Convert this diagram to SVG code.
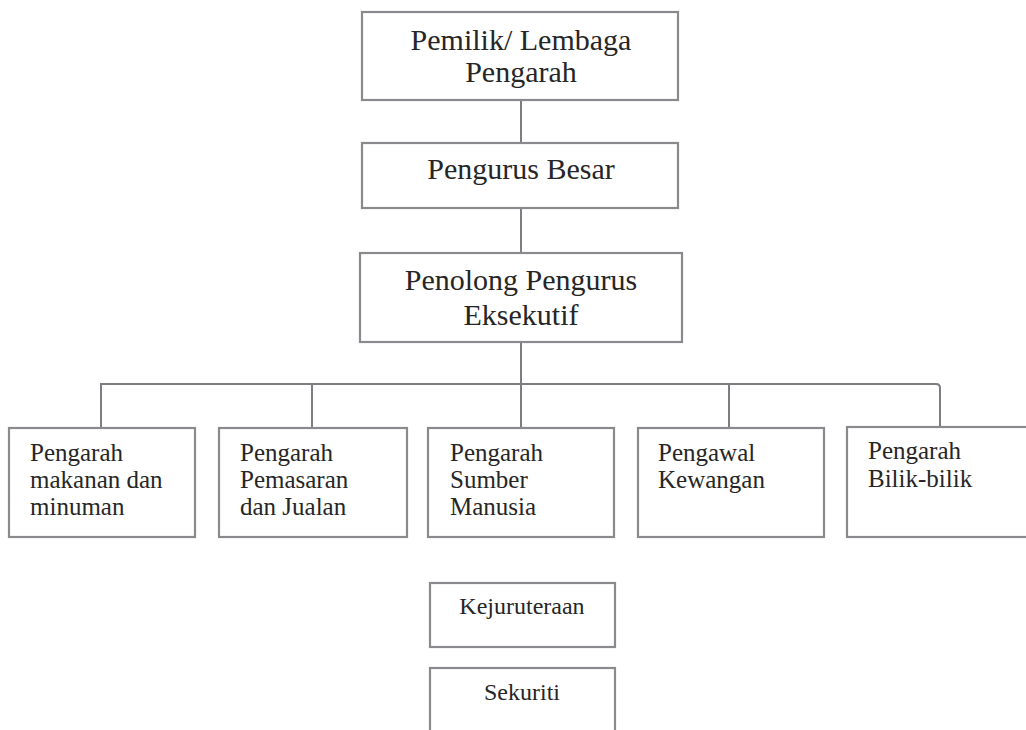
<svg xmlns="http://www.w3.org/2000/svg" width="1026" height="730" viewBox="0 0 1026 730">
<style>
.box{fill:#fff;stroke:#8a8a8e;stroke-width:2.2}
.ln{fill:none;stroke:#7d7d82;stroke-width:2}
.t{font-family:"Liberation Serif","Times New Roman",serif;fill:#262626}
.big{font-size:30px;text-anchor:middle}
.sm{font-size:25px}
.mid{font-size:24px;text-anchor:middle}
</style>
<rect width="1026" height="730" fill="#fff"/>
<g id="connectors">
<line class="ln" x1="521" y1="100" x2="521" y2="143"/>
<line class="ln" x1="521" y1="208" x2="521" y2="253"/>
<line class="ln" x1="521" y1="342" x2="521" y2="384"/>
<path class="ln" d="M101 428 V384 H936 Q940 384 940 388 V428"/>
<line class="ln" x1="312" y1="384" x2="312" y2="428"/>
<line class="ln" x1="521" y1="384" x2="521" y2="428"/>
<line class="ln" x1="729" y1="384" x2="729" y2="428"/>
</g>
<g id="pemilik">
<rect class="box" x="362" y="12" width="316" height="88"/>
<text class="t big" x="521" y="50">Pemilik/ Lembaga</text>
<text class="t big" x="521" y="82">Pengarah</text>
</g>
<g id="pengurus-besar">
<rect class="box" x="362" y="143" width="316" height="65"/>
<text class="t big" x="521" y="179">Pengurus Besar</text>
</g>
<g id="penolong">
<rect class="box" x="360" y="253" width="322" height="89"/>
<text class="t big" x="521" y="290">Penolong Pengurus</text>
<text class="t big" x="521" y="325">Eksekutif</text>
</g>
<g id="makanan">
<rect class="box" x="9" y="428" width="186" height="109"/>
<text class="t sm" x="30" y="461">Pengarah</text>
<text class="t sm" x="30" y="488">makanan dan</text>
<text class="t sm" x="30" y="515">minuman</text>
</g>
<g id="pemasaran">
<rect class="box" x="219" y="428" width="188" height="109"/>
<text class="t sm" x="240" y="461">Pengarah</text>
<text class="t sm" x="240" y="488">Pemasaran</text>
<text class="t sm" x="240" y="515">dan Jualan</text>
</g>
<g id="sumber-manusia">
<rect class="box" x="428" y="428" width="186" height="109"/>
<text class="t sm" x="450" y="461">Pengarah</text>
<text class="t sm" x="450" y="488">Sumber</text>
<text class="t sm" x="450" y="515">Manusia</text>
</g>
<g id="kewangan">
<rect class="box" x="638" y="428" width="186" height="109"/>
<text class="t sm" x="658" y="461">Pengawal</text>
<text class="t sm" x="658" y="488">Kewangan</text>
</g>
<g id="bilik">
<rect class="box" x="847" y="427" width="190" height="110"/>
<text class="t sm" x="868" y="459">Pengarah</text>
<text class="t sm" x="868" y="487">Bilik-bilik</text>
</g>
<g id="kejuruteraan">
<rect class="box" x="430" y="583" width="185" height="64"/>
<text class="t mid" x="522" y="614">Kejuruteraan</text>
</g>
<g id="sekuriti">
<rect class="box" x="430" y="668" width="185" height="80"/>
<text class="t mid" x="522" y="700">Sekuriti</text>
</g>
</svg>
